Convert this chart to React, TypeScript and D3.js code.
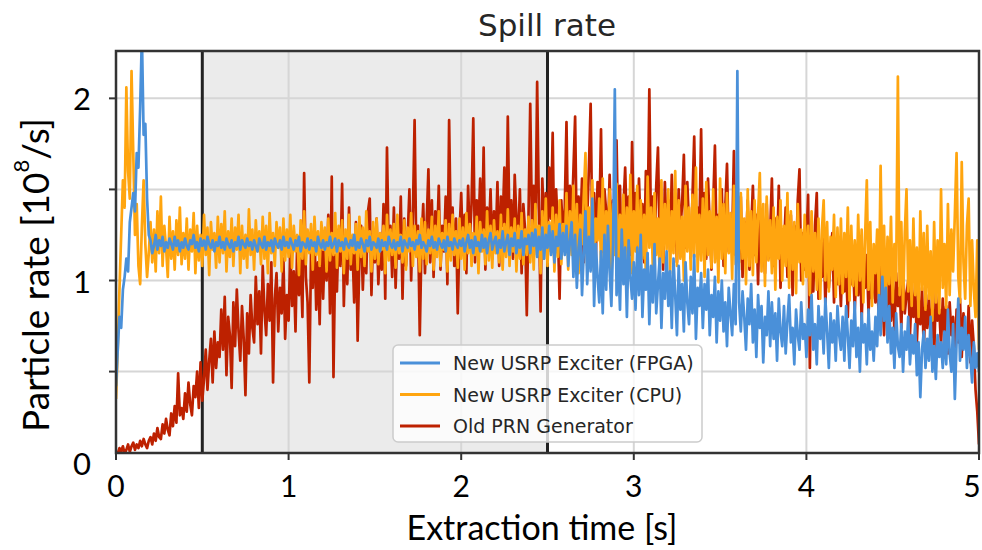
import React from 'react';
import * as d3 from 'd3';

const timeStep = 0.01;

const fpga = [
  0.42, 0.62, 0.80, 0.74, 0.95, 1.02, 1.12, 1.05, 1.32, 1.40, 1.48, 1.38, 1.70, 1.62, 1.95, 2.35, 1.80, 1.86, 1.45, 1.25,
  1.22, 1.15, 1.19, 1.25, 1.17, 1.22, 1.19, 1.24, 1.16, 1.21, 1.18, 1.23, 1.20, 1.17, 1.24, 1.19, 1.22, 1.16, 1.21, 1.18,
  1.23, 1.19, 1.17, 1.22, 1.20, 1.25, 1.18, 1.21, 1.16, 1.23, 1.19, 1.22, 1.17, 1.24, 1.20, 1.18, 1.22, 1.16, 1.21, 1.19,
  1.24, 1.18, 1.21, 1.17, 1.23, 1.20, 1.18, 1.22, 1.16, 1.21, 1.19, 1.24, 1.17, 1.22, 1.20, 1.18, 1.23, 1.19, 1.21, 1.17,
  1.22, 1.19, 1.16, 1.23, 1.20, 1.18, 1.24, 1.17, 1.21, 1.19, 1.22, 1.16, 1.23, 1.20, 1.18, 1.22, 1.17, 1.24, 1.19, 1.21,
  1.18, 1.23, 1.20, 1.17, 1.22, 1.19, 1.24, 1.16, 1.21, 1.20, 1.18, 1.23, 1.17, 1.22, 1.19, 1.21, 1.16, 1.24, 1.20, 1.18,
  1.22, 1.17, 1.21, 1.19, 1.24, 1.18, 1.20, 1.23, 1.16, 1.22, 1.19, 1.21, 1.17, 1.23, 1.20, 1.18, 1.22, 1.19, 1.25, 1.17,
  1.21, 1.18, 1.23, 1.20, 1.16, 1.22, 1.19, 1.24, 1.17, 1.21, 1.20, 1.18, 1.23, 1.16, 1.22, 1.19, 1.21, 1.17, 1.24, 1.20,
  1.18, 1.22, 1.17, 1.21, 1.19, 1.24, 1.16, 1.22, 1.20, 1.18, 1.23, 1.19, 1.21, 1.17, 1.22, 1.20, 1.25, 1.18, 1.21, 1.19,
  1.16, 1.22, 1.19, 1.24, 1.18, 1.21, 1.17, 1.23, 1.20, 1.18, 1.22, 1.16, 1.24, 1.19, 1.21, 1.17, 1.23, 1.20, 1.18, 1.22,
  1.19, 1.23, 1.16, 1.21, 1.25, 1.18, 1.22, 1.15, 1.24, 1.19, 1.21, 1.16, 1.25, 1.18, 1.23, 1.15, 1.22, 1.26, 1.17, 1.21,
  1.24, 1.15, 1.22, 1.18, 1.27, 1.16, 1.21, 1.25, 1.14, 1.23, 1.19, 1.26, 1.15, 1.22, 1.18, 1.27, 1.14, 1.23, 1.20, 1.25,
  1.15, 1.26, 1.19, 1.28, 1.13, 1.24, 1.17, 1.29, 1.12, 1.25, 1.18, 1.30, 1.14, 1.27, 1.10, 1.24, 1.19, 1.31, 1.12, 1.26,
  1.14, 1.30, 1.08, 1.22, 1.32, 1.02, 1.25, 0.96, 1.18, 1.28, 0.92, 1.15, 1.38, 0.98, 1.24, 1.05, 1.45, 0.86, 1.20, 1.02,
  0.88, 1.16, 0.82, 1.25, 0.95, 1.30, 1.05, 0.86, 1.20, 2.05, 0.92, 1.12, 0.84, 1.28, 0.98, 1.18, 0.80, 1.22, 1.02, 0.90,
  1.10, 0.84, 1.18, 0.92, 1.25, 0.80, 1.06, 0.95, 1.15, 0.76, 1.08, 0.88, 1.20, 0.82, 0.98, 1.12, 0.74, 1.04, 0.90, 1.16,
  0.86, 1.05, 0.74, 1.12, 0.92, 0.70, 1.08, 0.84, 0.98, 0.72, 1.10, 0.88, 0.76, 1.02, 0.82, 1.14, 0.68, 0.96, 0.86, 1.04,
  0.74, 0.98, 0.84, 1.06, 0.70, 0.92, 0.80, 1.02, 0.66, 0.94, 0.78, 1.00, 0.72, 0.88, 0.64, 0.96, 0.82, 0.70, 0.98, 0.76,
  2.15, 0.88, 0.72, 0.94, 0.80, 0.62, 0.90, 0.76, 0.98, 0.66, 0.84, 0.58, 0.92, 0.74, 0.86, 0.55, 0.80, 0.70, 0.94, 0.64,
  0.88, 0.68, 0.82, 0.56, 0.90, 0.72, 0.64, 0.86, 0.60, 0.78, 0.92, 0.66, 0.74, 0.54, 0.84, 0.70, 0.62, 0.88, 0.68, 0.76,
  0.58, 0.84, 0.70, 0.92, 0.62, 0.76, 0.54, 0.86, 0.68, 0.80, 0.60, 0.90, 0.72, 0.52, 0.82, 0.66, 0.78, 0.56, 0.86, 0.70,
  0.62, 0.80, 0.56, 0.86, 0.70, 0.52, 0.78, 0.64, 0.88, 0.58, 0.74, 0.50, 0.82, 0.66, 0.76, 0.54, 0.84, 0.62, 0.72, 0.56,
  0.80, 0.64, 0.92, 0.70, 1.02, 0.78, 0.96, 0.66, 0.86, 0.60, 0.74, 0.52, 0.82, 0.64, 0.58, 0.76, 0.50, 0.72, 0.62, 0.80,
  0.54, 0.70, 0.60, 0.76, 0.48, 0.66, 0.36, 0.62, 0.72, 0.52, 0.68, 0.56, 0.80, 0.50, 0.64, 0.46, 0.70, 0.58, 0.66, 0.52,
  0.72, 0.54, 0.84, 0.60, 0.50, 0.76, 0.35, 0.66, 0.90, 0.56, 0.74, 0.62, 0.80, 0.52, 0.70, 0.58, 0.44, 0.66, 0.52, 0.60,
  0.50,
];

const cpu = [
  0.35, 0.62, 0.95, 1.25, 1.55, 1.40, 2.06, 1.60, 1.45, 2.15, 1.70, 1.25, 1.42, 1.08, 0.98, 1.30, 1.55, 1.20, 1.02, 1.15,
  1.32, 1.10, 1.28, 1.05, 1.38, 1.15, 1.46, 1.08, 1.30, 1.18, 1.02, 1.35, 1.12, 1.27, 1.06, 1.33, 1.14, 1.40, 1.09, 1.26,
  1.12, 1.34, 1.06, 1.28, 1.16, 1.37, 1.04, 1.30, 1.11, 1.25, 1.08, 1.36, 1.14, 1.29, 1.03, 1.32, 1.17, 1.26, 1.07, 1.35,
  1.10, 1.31, 1.15, 1.38, 1.05, 1.27, 1.13, 1.34, 1.08, 1.29, 1.17, 1.36, 1.04, 1.30, 1.12, 1.25, 1.07, 1.39, 1.14, 1.28,
  1.06, 1.33, 1.16, 1.27, 1.09, 1.35, 1.12, 1.30, 1.04, 1.37, 1.15, 1.26, 1.08, 1.32, 1.18, 1.29, 1.05, 1.34, 1.11, 1.28,
  1.13, 1.36, 1.07, 1.30, 1.16, 1.25, 1.03, 1.33, 1.12, 1.38, 1.09, 1.28, 1.15, 1.31, 1.06, 1.35, 1.14, 1.27, 1.08, 1.32,
  1.17, 1.29, 1.05, 1.34, 1.11, 1.26, 1.14, 1.37, 1.07, 1.30, 1.16, 1.33, 1.04, 1.28, 1.12, 1.36, 1.09, 1.25, 1.15, 1.31,
  1.06, 1.35, 1.13, 1.29, 1.08, 1.38, 1.16, 1.27, 1.05, 1.32, 1.12, 1.34, 1.09, 1.26, 1.17, 1.30, 1.04, 1.36, 1.11, 1.28,
  1.14, 1.31, 1.07, 1.36, 1.15, 1.25, 1.10, 1.33, 1.06, 1.29, 1.16, 1.37, 1.08, 1.30, 1.13, 1.27, 1.05, 1.34, 1.12, 1.32,
  1.09, 1.28, 1.15, 1.35, 1.06, 1.30, 1.13, 1.38, 1.08, 1.26, 1.17, 1.33, 1.05, 1.31, 1.11, 1.36, 1.14, 1.27, 1.07, 1.34,
  1.12, 1.29, 1.06, 1.37, 1.15, 1.31, 1.08, 1.26, 1.14, 1.35, 1.04, 1.32, 1.16, 1.28, 1.09, 1.38, 1.11, 1.30, 1.07, 1.33,
  1.15, 1.27, 1.10, 1.36, 1.06, 1.31, 1.13, 1.39, 1.08, 1.29, 1.16, 1.34, 1.05, 1.30, 1.12, 1.37, 1.09, 1.28, 1.14, 1.35,
  1.10, 1.33, 1.06, 1.42, 1.14, 1.30, 1.04, 1.38, 1.12, 1.45, 1.08, 1.32, 1.16, 1.40, 1.05, 1.36, 1.13, 1.44, 1.09, 1.31,
  1.18, 1.48, 1.06, 1.38, 1.14, 1.52, 1.10, 1.42, 1.04, 1.36, 1.20, 1.46, 1.70, 1.08, 1.40, 1.15, 1.55, 1.05, 1.34, 1.22,
  1.45, 1.10, 1.56, 1.02, 1.38, 1.18, 1.50, 1.06, 1.42, 1.14, 1.53, 1.00, 1.36, 1.20, 1.47, 1.08, 1.40, 1.12, 1.58, 1.04,
  1.38, 1.16, 1.52, 1.05, 1.44, 1.12, 1.36, 1.02, 1.57, 1.18, 1.40, 1.08, 1.48, 1.14, 1.34, 1.03, 1.55, 1.10, 1.42, 1.17,
  1.50, 1.04, 1.38, 1.15, 1.60, 1.08, 1.44, 1.12, 1.35, 1.00, 1.52, 1.16, 1.40, 1.06, 1.47, 1.13, 1.62, 1.05, 1.36, 1.11,
  1.45, 1.02, 1.54, 1.14, 1.38, 1.07, 1.50, 1.10, 1.35, 0.99, 1.56, 1.12, 1.42, 1.04, 1.48, 1.15, 1.37, 1.01, 1.52, 1.09,
  1.40, 1.06, 1.48, 1.12, 1.34, 0.98, 1.50, 1.08, 1.38, 1.03, 1.44, 1.10, 1.36, 1.59, 1.05, 1.42, 0.97, 1.46, 1.11, 1.33,
  1.04, 1.40, 0.95, 1.35, 1.12, 1.44, 1.00, 1.30, 1.08, 1.48, 0.96, 1.38, 1.06, 1.32, 0.93, 1.42, 1.10, 1.28, 0.98, 1.36,
  1.02, 1.30, 0.92, 1.38, 1.05, 1.26, 0.95, 1.34, 0.90, 1.28, 1.44, 1.00, 1.32, 0.94, 1.24, 1.06, 1.36, 0.91, 1.29, 0.98,
  1.34, 0.93, 1.26, 1.02, 1.40, 0.89, 1.30, 0.97, 1.22, 0.92, 1.36, 1.00, 1.28, 0.88, 1.24, 1.55, 0.95, 1.32, 0.86, 1.20,
  1.04, 1.28, 0.90, 1.63, 0.96, 1.30, 0.85, 1.24, 0.98, 1.35, 0.88, 1.20, 1.00, 2.12, 0.92, 1.32, 0.84, 1.26, 1.50, 0.94,
  1.22, 0.86, 1.34, 0.92, 1.18, 0.80, 1.38, 0.95, 1.26, 0.84, 1.30, 0.90, 1.16, 0.78, 1.32, 0.88, 1.22, 0.82, 1.50, 0.96,
  1.20, 0.85, 1.42, 0.92, 1.28, 1.05, 1.36, 1.70, 1.02, 0.88, 1.65, 1.10, 0.90, 1.30, 1.45, 0.86, 1.22, 0.95, 0.80, 1.22,
  0.62,
];

const prn = [
  0.06, 0.05, 0.08, 0.06, 0.09, 0.05, 0.07, 0.10, 0.06, 0.09, 0.11, 0.07, 0.10, 0.08, 0.12, 0.09, 0.13, 0.10, 0.08, 0.12,
  0.14, 0.10, 0.16, 0.12, 0.19, 0.14, 0.13, 0.21, 0.16, 0.24, 0.18, 0.15, 0.27, 0.20, 0.31, 0.22, 0.49, 0.26, 0.30, 0.24,
  0.38, 0.28, 0.44, 0.32, 0.26, 0.42, 0.36, 0.50, 0.30, 0.55, 0.34, 0.46, 0.62, 0.40, 0.56, 0.68, 0.44, 0.72, 0.52, 0.66,
  0.58, 0.84, 0.62, 0.91, 0.48, 0.80, 0.70, 0.41, 0.88, 0.64, 0.95, 0.72, 0.56, 0.86, 0.68, 0.37, 0.82, 0.60, 0.92, 0.74,
  0.66, 1.02, 0.76, 0.94, 0.60, 1.08, 0.84, 0.70, 0.98, 0.78, 1.10, 0.44, 0.90, 1.04, 0.72, 0.96, 0.82, 1.12, 0.68, 0.92,
  0.78, 1.18, 0.86, 1.05, 0.72, 1.22, 0.92, 1.12, 0.80, 1.59, 1.02, 0.88, 0.44, 1.16, 0.96, 1.26, 0.84, 1.10, 0.76, 1.30,
  0.90, 1.20, 1.00, 1.36, 0.82, 1.57, 0.47, 1.14, 0.94, 1.28, 1.08, 1.53, 0.86, 1.24, 0.98, 1.40, 1.06, 1.18, 0.88, 1.32,
  0.67, 1.12, 1.30, 0.95, 1.22, 1.04, 1.38, 1.45, 0.92, 1.26, 1.10, 1.34, 0.98, 1.20, 1.06, 1.42, 0.90, 1.73, 1.15, 1.30,
  1.02, 1.40, 0.96, 1.28, 1.12, 1.46, 0.90, 1.34, 1.08, 1.24, 1.50, 1.00, 1.36, 1.88, 1.14, 1.30, 0.70, 1.20, 1.42, 1.04,
  1.32, 1.61, 1.10, 1.44, 1.02, 1.38, 1.20, 1.52, 1.06, 1.30, 1.16, 1.46, 0.98, 1.88, 1.24, 1.40, 1.08, 1.34, 0.82, 1.26,
  1.48, 1.15, 1.36, 1.04, 1.52, 1.22, 1.42, 1.89, 1.10, 1.44, 1.28, 1.56, 1.18, 1.73, 1.06, 1.40, 1.24, 1.50, 1.12, 1.38,
  1.20, 1.54, 1.08, 1.46, 1.30, 1.62, 1.16, 1.90, 1.26, 1.44, 1.12, 1.58, 1.34, 1.22, 1.50, 1.04, 1.42, 1.28, 0.81, 1.36,
  1.97, 1.30, 1.52, 1.22, 2.09, 1.40, 0.83, 1.56, 1.26, 1.48, 1.18, 1.62, 1.34, 1.81, 1.14, 1.50, 1.28, 0.90, 1.44, 1.24,
  1.40, 1.87, 1.20, 1.52, 1.32, 1.60, 1.90, 1.18, 1.46, 1.28, 1.56, 1.10, 1.42, 1.34, 1.62, 1.97, 1.22, 1.48, 1.12, 1.54,
  1.30, 1.83, 1.16, 1.50, 1.38, 1.24, 1.58, 1.12, 1.44, 1.28, 1.77, 1.20, 1.52, 1.08, 1.40, 1.62, 1.26, 1.46, 1.14, 1.76,
  1.32, 1.48, 1.18, 1.56, 1.26, 1.42, 1.10, 1.60, 1.30, 2.05, 1.22, 1.46, 1.14, 1.52, 1.73, 1.20, 1.40, 1.06, 1.54, 1.28,
  1.44, 1.16, 1.58, 1.24, 1.38, 1.10, 1.50, 1.28, 1.42, 1.69, 1.18, 1.54, 1.30, 1.12, 1.46, 1.79, 1.22, 1.40, 1.26, 1.83,
  1.20, 1.48, 1.12, 1.56, 1.30, 1.06, 1.42, 1.74, 1.18, 1.36, 1.24, 1.50, 1.08, 1.40, 1.64, 1.16, 1.34, 1.22, 1.71, 1.14,
  1.38, 1.10, 1.46, 1.02, 1.32, 1.20, 1.44, 1.06, 1.28, 1.52, 1.14, 1.36, 0.98, 1.40, 1.18, 1.30, 1.04, 1.42, 1.12, 1.26,
  1.56, 1.08, 1.34, 1.14, 1.52, 0.96, 1.28, 1.18, 1.40, 1.02, 1.24, 1.36, 0.92, 1.30, 1.10, 1.44, 1.61, 1.00, 1.26, 1.06,
  1.20, 1.47, 0.52, 1.16, 0.94, 1.30, 1.48, 0.90, 1.12, 1.02, 1.24, 0.86, 1.18, 0.96, 1.10, 1.26, 0.88, 1.14, 0.98, 1.08,
  0.86, 1.16, 0.94, 1.08, 0.80, 1.20, 0.98, 1.12, 0.84, 1.04, 0.92, 1.18, 0.78, 1.06, 0.96, 1.14, 0.82, 1.02, 0.90, 1.10,
  0.88, 1.06, 0.76, 1.12, 0.94, 0.70, 1.02, 0.84, 1.10, 0.78, 0.98, 0.72, 1.04, 0.86, 0.96, 0.74, 1.08, 0.82, 0.92, 1.00,
  0.70, 0.94, 0.80, 0.98, 0.66, 0.90, 0.76, 0.96, 0.62, 0.88, 0.74, 0.92, 0.68, 0.86, 0.58, 0.94, 0.78, 0.84, 0.64, 0.90,
  0.72, 0.86, 0.60, 0.88, 0.70, 0.80, 0.56, 0.84, 0.66, 0.90, 0.58, 0.82, 0.68, 0.62, 0.86, 0.55, 0.78, 0.64, 0.40, 0.28,
  0.10,
];

const xTicks = [0, 1, 2, 3, 4, 5];
const xGrid = [1, 2, 3, 4];
const yTickMarks = [0.5, 1, 1.5, 2];
const yTickLabels = [0, 1, 2];
const yGrid = [0.5, 1, 1.5, 2];
const markerTimes = [0.5, 2.5];
const shadedSpan = [0.5, 2.5];

const seriesNames = ['New USRP Exciter (FPGA)', 'New USRP Exciter (CPU)', 'Old PRN Generator'];
const seriesColors = ['#4a90d9', '#ffa50f', '#bd2100'];
const seriesData = [fpga, cpu, prn];

const W = 982;
const H = 550;
const left = 116;
const right = 979;
const top = 51;
const bottom = 453;

export default function App() {
  const x = d3.scaleLinear().domain([0, 5]).range([left, right]);
  const y = d3.scaleLinear().domain([0.053, 2.26]).range([bottom, top]);
  const line = d3
    .line<number>()
    .x((_, i) => x(i * timeStep))
    .y((d) => y(d));

  const drawOrder = [2, 1, 0];
  const bigFont = 'Lato, "Open Sans", sans-serif';
  const mplFont = '"DejaVu Sans", sans-serif';

  return (
    <svg
      width={W}
      height={H}
      viewBox={`0 0 ${W} ${H}`}
      style={{ position: 'absolute', left: 0, top: 0, background: '#fff' }}
    >
      <defs>
        <clipPath id="plotClip">
          <rect x={left} y={top} width={right - left} height={bottom - top} />
        </clipPath>
      </defs>
      <rect x={left} y={top} width={right - left} height={bottom - top} fill="#fff" />
      <rect
        x={x(shadedSpan[0])}
        y={top}
        width={x(shadedSpan[1]) - x(shadedSpan[0])}
        height={bottom - top}
        fill="#ebebeb"
      />
      {xGrid.map((t) => (
        <line key={'gx' + t} x1={x(t)} x2={x(t)} y1={top} y2={bottom} stroke="#d6d6d6" strokeWidth={2} />
      ))}
      {yGrid.map((v) => (
        <line key={'gy' + v} x1={left} x2={right} y1={y(v)} y2={y(v)} stroke="#d6d6d6" strokeWidth={2} />
      ))}
      {markerTimes.map((t) => (
        <line key={'m' + t} x1={x(t)} x2={x(t)} y1={top} y2={bottom} stroke="#222" strokeWidth={3} />
      ))}
      <g clipPath="url(#plotClip)">
        {drawOrder.map((k) => (
          <path
            key={'s' + k}
            d={line(seriesData[k]) || ''}
            fill="none"
            stroke={seriesColors[k]}
            strokeWidth={2.7}
            strokeLinejoin="round"
          />
        ))}
      </g>
      <rect
        x={left}
        y={top}
        width={right - left}
        height={bottom - top}
        fill="none"
        stroke="#333"
        strokeWidth={2.5}
      />
      {xTicks.map((t) => (
        <line key={'tx' + t} x1={x(t)} x2={x(t)} y1={bottom} y2={bottom + 7} stroke="#333" strokeWidth={2} />
      ))}
      {yTickMarks.map((v) => (
        <line key={'ty' + v} x1={left - 7} x2={left} y1={y(v)} y2={y(v)} stroke="#333" strokeWidth={2} />
      ))}
      {xTicks.map((t) => (
        <text
          key={'lx' + t}
          x={Math.min(x(t), W - 10)}
          y={485}
          textAnchor="middle"
          dominantBaseline="central"
          fontFamily={bigFont}
          fontSize={30}
          fill="#000"
        >
          {t}
        </text>
      ))}
      {yTickLabels.map((v) => (
        <text
          key={'ly' + v}
          x={82}
          y={y(v)}
          textAnchor="middle"
          dominantBaseline="central"
          fontFamily={bigFont}
          fontSize={31}
          fill="#000"
        >
          {v}
        </text>
      ))}
      <text
        x={542}
        y={540}
        textAnchor="middle"
        fontFamily={bigFont}
        fontSize={34}
        fill="#000"
      >
        Extraction time [s]
      </text>
      <text
        transform="translate(34,275) rotate(-90)"
        textAnchor="middle"
        dominantBaseline="central"
        fontFamily={bigFont}
        fontSize={37}
        fill="#000"
      >
        Particle rate [10<tspan baselineShift="super" fontSize={22}>8</tspan>/s]
      </text>
      <text
        x={547}
        y={25}
        textAnchor="middle"
        dominantBaseline="central"
        fontFamily={mplFont}
        fontSize={31}
        fill="#262626"
      >
        Spill rate
      </text>
      <g>
        <rect
          x={393}
          y={345}
          width={309}
          height={97}
          rx={5}
          fill="#fff"
          fillOpacity={0.8}
          stroke="#cccccc"
          strokeWidth={1.5}
        />
        {seriesNames.map((name, i) => (
          <g key={'lg' + i}>
            <line
              x1={400}
              x2={440}
              y1={363 + i * 31.5}
              y2={363 + i * 31.5}
              stroke={seriesColors[i]}
              strokeWidth={3}
            />
            <text
              x={453}
              y={363 + i * 31.5}
              dominantBaseline="central"
              fontFamily={mplFont}
              fontSize={19}
              fill="#262626"
            >
              {name}
            </text>
          </g>
        ))}
      </g>
    </svg>
  );
}
